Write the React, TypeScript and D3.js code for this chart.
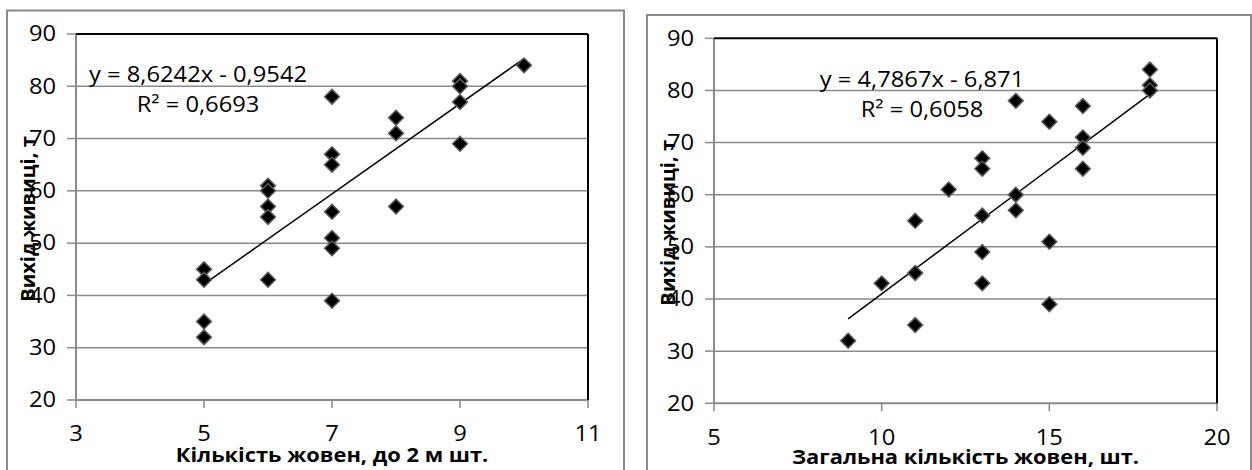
import React from 'react';
import * as d3 from 'd3';

// left chart: count of side shoots up to 2 m vs resin yield
const leftX = [5, 5, 5, 5, 6, 6, 6, 6, 6, 7, 7, 7, 7, 7, 7, 7, 8, 8, 8, 9, 9, 9, 9, 10];
const leftY = [45, 43, 35, 32, 61, 60, 57, 55, 43, 78, 67, 65, 56, 51, 49, 39, 74, 71, 57, 81, 80, 77, 69, 84];
const leftXTicks = [3, 5, 7, 9, 11];
const leftTrend = [8.6242, -0.9542];
const leftEq = ['y = 8,6242x - 0,9542', 'R² = 0,6693'];

// right chart: total count vs resin yield
const rightX = [9, 10, 11, 11, 11, 12, 13, 13, 13, 13, 13, 14, 14, 14, 15, 15, 15, 16, 16, 16, 16, 18, 18, 18];
const rightY = [32, 43, 45, 35, 55, 61, 67, 65, 56, 49, 43, 78, 60, 57, 74, 51, 39, 77, 71, 69, 65, 84, 81, 80];
const rightXTicks = [5, 10, 15, 20];
const rightTrend = [4.7867, -6.871];
const rightEq = ['y = 4,7867x - 6,871', 'R² = 0,6058'];

const yTicks = [20, 30, 40, 50, 60, 70, 80, 90];
const yTitle = 'Вихід живиці, т';
const leftXTitle = 'Кількість жовен, до 2 м шт.';
const rightXTitle = 'Загальна кількість жовен, шт.';

const font = '"Open Sans", sans-serif';
const grid = '#8a8a8a';

// the source used a wide font, so stretch text a little horizontally
const Label = ({ x, y, anchor, size, children, weight = 'normal', sx = 1.13 }) => (
  <text transform={`translate(${x},${y}) scale(${sx},1)`} dy="0.35em" textAnchor={anchor}
    fontSize={size} fontWeight={weight}>{children}</text>
);

function Scatter({ frame, plot, xs, ys, xTicks, trend, eq, eqX, xTitle, titleX, titleY }) {
  const x = d3.scaleLinear().domain(d3.extent(xTicks)).range([plot.l, plot.r]);
  const y = d3.scaleLinear().domain([20, 90]).range([plot.b, plot.t]);
  const [x0, x1] = d3.extent(xs);
  const line = d3.line().x(d => x(d[0])).y(d => y(d[1]));
  const trendPts = [x0, x1].map(v => [v, trend[0] * v + trend[1]]);
  const diamond = d3.symbol(d3.symbolSquare, 110)();

  return (
    <g fontFamily={font}>
      <rect x={frame.x} y={frame.y} width={frame.w} height={frame.h} fill="#fff" stroke={grid} strokeWidth={2} />
      {yTicks.slice(1, -1).map(t => (
        <line key={t} x1={plot.l} x2={plot.r} y1={y(t)} y2={y(t)} stroke={grid} strokeWidth={1.5} />
      ))}
      {yTicks.map(t => (
        <g key={'yt' + t}>
          <line x1={plot.l - 9} x2={plot.l} y1={y(t)} y2={y(t)} stroke={grid} strokeWidth={1.5} />
          <Label x={plot.l - 20} y={y(t)} anchor="end" size={21}>{t}</Label>
        </g>
      ))}
      {xTicks.map(t => (
        <g key={'xt' + t}>
          <line x1={x(t)} x2={x(t)} y1={plot.b} y2={plot.b + 8} stroke={grid} strokeWidth={1.5} />
          <Label x={x(t)} y={plot.b + 34} anchor="middle" size={21}>{t}</Label>
        </g>
      ))}
      <line x1={plot.l} x2={plot.r} y1={plot.b} y2={plot.b} stroke={grid} strokeWidth={2} />
      <line x1={plot.l} x2={plot.l} y1={plot.t} y2={plot.b} stroke={grid} strokeWidth={2} />
      <line x1={plot.l} x2={plot.r} y1={plot.t} y2={plot.t} stroke="#000" strokeWidth={2} />
      <line x1={plot.r} x2={plot.r} y1={plot.t} y2={plot.b} stroke="#000" strokeWidth={2} />
      <path d={line(trendPts)} fill="none" stroke="#000" strokeWidth={1.5} />
      {xs.map((v, i) => (
        <path key={i} d={diamond} transform={`translate(${x(v)},${y(ys[i])}) rotate(45)`}
          fill="#000" stroke="#5a5a5a" strokeWidth={1.5} />
      ))}
      <Label x={eqX} y={plot.t + 41} anchor="middle" size={21}>{eq[0]}</Label>
      <Label x={eqX} y={plot.t + 71} anchor="middle" size={21}>{eq[1]}</Label>
      <text transform={`translate(${titleX},${(plot.t + plot.b) / 2 + 2}) rotate(-90) scale(1.06,1)`} dy="0.35em"
        textAnchor="middle" fontSize={19} fontWeight="bold">{yTitle}</text>
      <Label x={(plot.l + plot.r) / 2} y={titleY} anchor="middle" size={19} weight="bold" sx={1.15}>{xTitle}</Label>
    </g>
  );
}

export default function App() {
  return (
    <svg width={1252} height={470} style={{ position: 'absolute', left: 0, top: 0 }}>
      <rect width={1252} height={470} fill="#fff" />
      <Scatter frame={{ x: 7, y: 10.5, w: 617, h: 480 }} plot={{ l: 76, r: 588, t: 34, b: 400 }}
        xs={leftX} ys={leftY} xTicks={leftXTicks} trend={leftTrend} eq={leftEq} eqX={198}
        xTitle={leftXTitle} titleX={28} titleY={455} />
      <Scatter frame={{ x: 647, y: 15, w: 604, h: 480 }} plot={{ l: 714, r: 1217, t: 38.3, b: 403.3 }}
        xs={rightX} ys={rightY} xTicks={rightXTicks} trend={rightTrend} eq={rightEq} eqX={922}
        xTitle={rightXTitle} titleX={668} titleY={457} />
    </svg>
  );
}
